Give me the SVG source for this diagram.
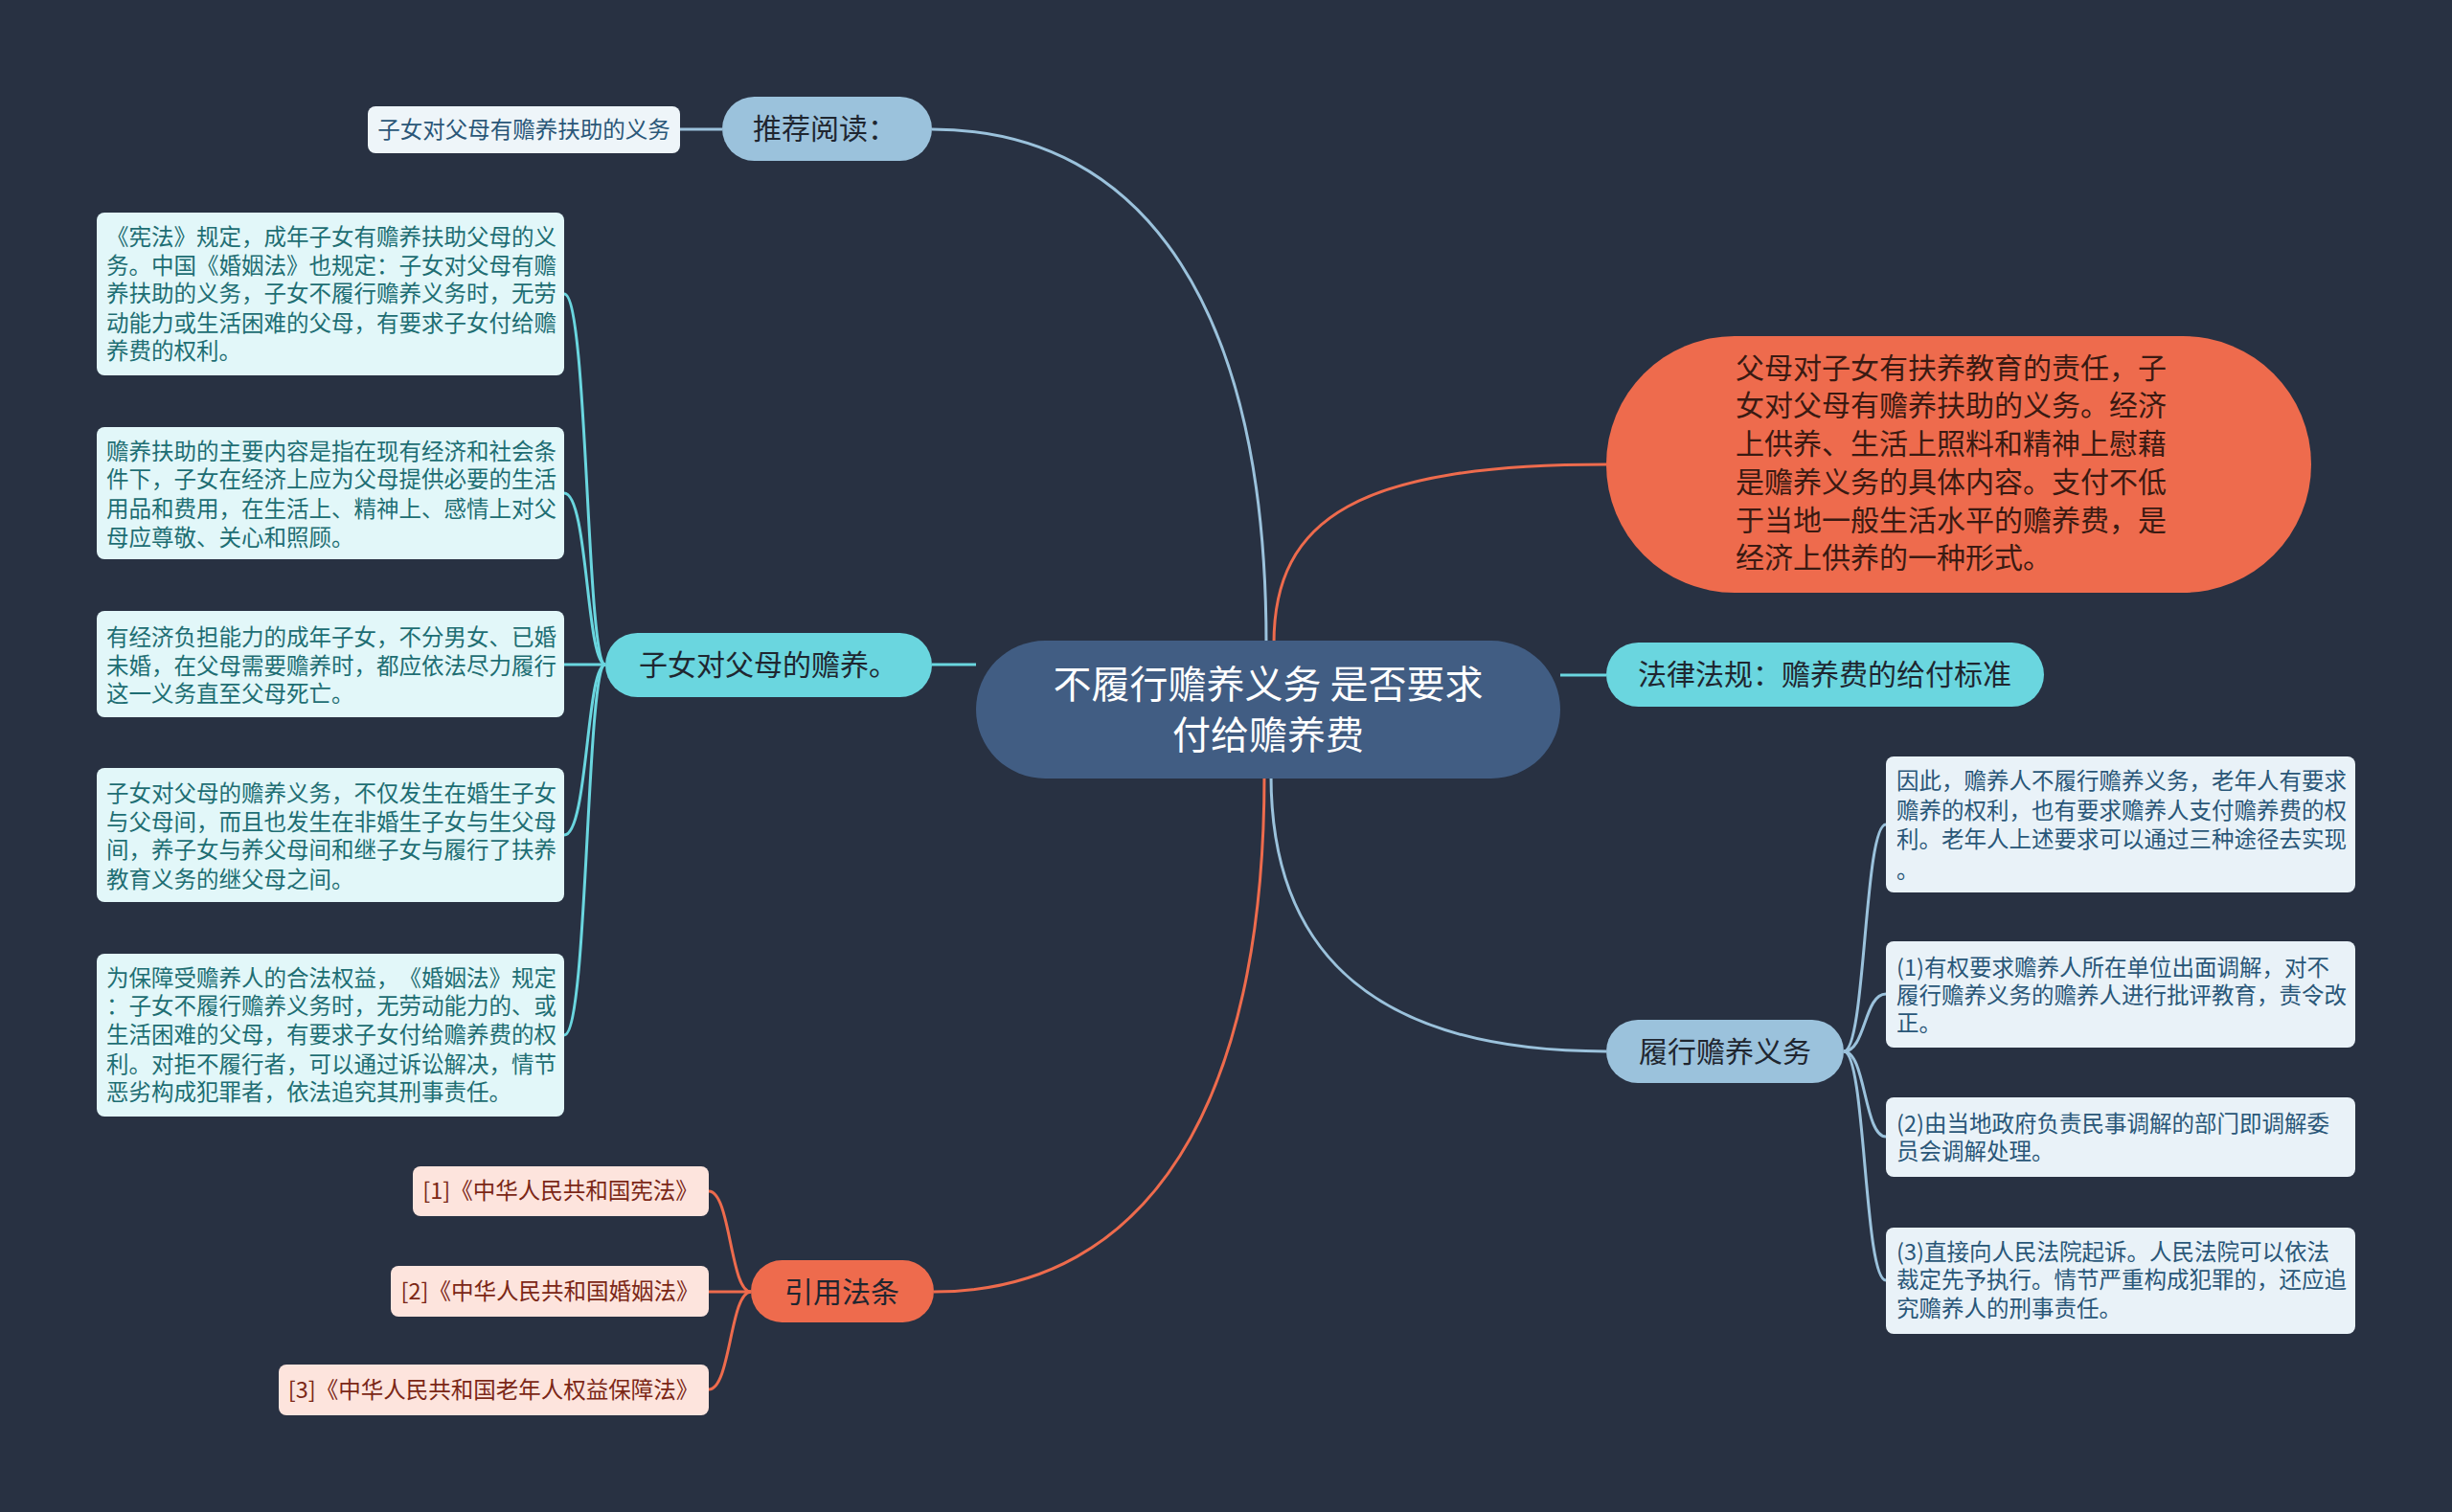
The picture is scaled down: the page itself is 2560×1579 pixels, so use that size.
<svg xmlns="http://www.w3.org/2000/svg" width="2560" height="1579" viewBox="0 0 2560 1579">
<style>
text{font-family:"Noto Sans CJK SC","Noto Sans",sans-serif;font-kerning:none;text-spacing-trim:space-all;}
.c{fill:none;stroke-width:3;}
.cb{stroke:#9bc2dc;}
.cc{stroke:#6ad6df;}
.co{stroke:#ee6b4d;}
.lf{fill:#e2f7f9;}
.lt{fill:#1e6e73;font-size:23.5px;}
.rf{fill:#e9f2f8;}
.rt{fill:#2a5778;font-size:23.5px;}
.pf{fill:#fde4dd;}
.pt{fill:#7b2716;font-size:23.5px;text-anchor:middle;}
.mt{fill:#1f2630;font-size:30px;text-anchor:middle;}
</style>
<rect width="2560" height="1579" fill="#283142"/>
<g id="connectors">
<path class="c cb" d="M973,135 C1200,135 1322,330 1322,672"/>
<path class="c co" d="M1330,672 C1330,540 1420,485 1677,485"/>
<path class="c cc" d="M1629,705 L1677,705"/>
<path class="c cb" d="M1327,810 C1327,1000 1440,1098 1677,1098"/>
<path class="c co" d="M1320,810 C1320,1150 1200,1349 975,1349"/>
<path class="c cc" d="M1019,694 L973,694"/>
<path class="c cb" d="M754,135 L710,135"/>
<path class="c cc" d="M632,694 C612,694 614,307 589,307"/>
<path class="c cc" d="M632,694 C612,694 614,515 589,515"/>
<path class="c cc" d="M632,694 L589,694"/>
<path class="c cc" d="M632,694 C612,694 614,872 589,872"/>
<path class="c cc" d="M632,694 C612,694 614,1081 589,1081"/>
<path class="c cb" d="M1925,1098 C1948,1098 1946,861 1969,861"/>
<path class="c cb" d="M1925,1098 C1948,1098 1946,1038 1969,1038"/>
<path class="c cb" d="M1925,1098 C1948,1098 1946,1187 1969,1187"/>
<path class="c cb" d="M1925,1098 C1948,1098 1946,1337 1969,1337"/>
<path class="c co" d="M784,1349 C762,1349 763,1244 740,1244"/>
<path class="c co" d="M784,1349 L740,1349"/>
<path class="c co" d="M784,1349 C762,1349 763,1451 740,1451"/>
</g>
<g id="center">
<rect x="1019" y="669" width="610" height="144" rx="72" fill="#415d83"/>
<text x="1324" y="729" fill="#ffffff" font-size="40" text-anchor="middle">不履行赡养义务 是否要求</text>
<text x="1324" y="782" fill="#ffffff" font-size="40" text-anchor="middle">付给赡养费</text>
</g>
<g id="n-tuijian">
<rect x="754" y="101" width="219" height="67" rx="33.5" fill="#9bc2dc"/>
<text class="mt" x="861" y="145">推荐阅读：</text>
</g>
<g id="n-tuijian-leaf">
<rect x="384" y="111" width="326" height="49" rx="8" fill="#eef5f9"/>
<text x="547" y="144" fill="#2a5778" font-size="23.5" text-anchor="middle">子女对父母有赡养扶助的义务</text>
</g>
<g id="n-zinv">
<rect x="632" y="661" width="341" height="67" rx="33.5" fill="#6ad6df"/>
<text class="mt" x="802" y="705">子女对父母的赡养。</text>
</g>
<g id="l1">
<rect class="lf" x="101" y="222" width="488" height="170" rx="8"/>
<text class="lt"><tspan x="111" y="256">《宪法》规定，成年子女有赡养扶助父母的义</tspan><tspan x="111" y="286">务。中国《婚姻法》也规定：子女对父母有赡</tspan><tspan x="111" y="315">养扶助的义务，子女不履行赡养义务时，无劳</tspan><tspan x="111" y="346">动能力或生活困难的父母，有要求子女付给赡</tspan><tspan x="111" y="375">养费的权利。</tspan></text>
</g>
<g id="l2">
<rect class="lf" x="101" y="446" width="488" height="138" rx="8"/>
<text class="lt"><tspan x="111" y="480">赡养扶助的主要内容是指在现有经济和社会条</tspan><tspan x="111" y="509">件下，子女在经济上应为父母提供必要的生活</tspan><tspan x="111" y="540">用品和费用，在生活上、精神上、感情上对父</tspan><tspan x="111" y="570">母应尊敬、关心和照顾。</tspan></text>
</g>
<g id="l3">
<rect class="lf" x="101" y="638" width="488" height="111" rx="8"/>
<text class="lt"><tspan x="111" y="674">有经济负担能力的成年子女，不分男女、已婚</tspan><tspan x="111" y="704">未婚，在父母需要赡养时，都应依法尽力履行</tspan><tspan x="111" y="733">这一义务直至父母死亡。</tspan></text>
</g>
<g id="l4">
<rect class="lf" x="101" y="802" width="488" height="140" rx="8"/>
<text class="lt"><tspan x="111" y="837">子女对父母的赡养义务，不仅发生在婚生子女</tspan><tspan x="111" y="867">与父母间，而且也发生在非婚生子女与生父母</tspan><tspan x="111" y="896">间，养子女与养父母间和继子女与履行了扶养</tspan><tspan x="111" y="927">教育义务的继父母之间。</tspan></text>
</g>
<g id="l5">
<rect class="lf" x="101" y="996" width="488" height="170" rx="8"/>
<text class="lt"><tspan x="111" y="1030">为保障受赡养人的合法权益，《婚姻法》规定</tspan><tspan x="111" y="1059">：子女不履行赡养义务时，无劳动能力的、或</tspan><tspan x="111" y="1089">生活困难的父母，有要求子女付给赡养费的权</tspan><tspan x="111" y="1120">利。对拒不履行者，可以通过诉讼解决，情节</tspan><tspan x="111" y="1149">恶劣构成犯罪者，依法追究其刑事责任。</tspan></text>
</g>
<g id="n-orange">
<rect x="1677" y="351" width="736" height="268" rx="134" fill="#ee6b4d"/>
<text fill="#3a1a12" font-size="30"><tspan x="1812" y="395">父母对子女有扶养教育的责任，子</tspan><tspan x="1812" y="434">女对父母有赡养扶助的义务。经济</tspan><tspan x="1812" y="474">上供养、生活上照料和精神上慰藉</tspan><tspan x="1812" y="514">是赡养义务的具体内容。支付不低</tspan><tspan x="1812" y="554">于当地一般生活水平的赡养费，是</tspan><tspan x="1812" y="593">经济上供养的一种形式。</tspan></text>
</g>
<g id="n-falv">
<rect x="1677" y="671" width="457" height="67" rx="33.5" fill="#6ad6df"/>
<text class="mt" x="1905" y="715">法律法规：赡养费的给付标准</text>
</g>
<g id="n-lvxing">
<rect x="1677" y="1065" width="248" height="66" rx="33" fill="#9bc2dc"/>
<text class="mt" x="1801" y="1109">履行赡养义务</text>
</g>
<g id="r1">
<rect class="rf" x="1969" y="790" width="490" height="142" rx="8"/>
<text class="rt"><tspan x="1980" y="824">因此，赡养人不履行赡养义务，老年人有要求</tspan><tspan x="1980" y="855">赡养的权利，也有要求赡养人支付赡养费的权</tspan><tspan x="1980" y="885">利。老年人上述要求可以通过三种途径去实现</tspan><tspan x="1980" y="917">。</tspan></text>
</g>
<g id="r2">
<rect class="rf" x="1969" y="983" width="490" height="111" rx="8"/>
<text class="rt"><tspan x="1980" y="1019">(1)有权要求赡养人所在单位出面调解，对不</tspan><tspan x="1980" y="1048">履行赡养义务的赡养人进行批评教育，责令改</tspan><tspan x="1980" y="1077">正。</tspan></text>
</g>
<g id="r3">
<rect class="rf" x="1969" y="1146" width="490" height="83" rx="8"/>
<text class="rt"><tspan x="1980" y="1182">(2)由当地政府负责民事调解的部门即调解委</tspan><tspan x="1980" y="1211">员会调解处理。</tspan></text>
</g>
<g id="r4">
<rect class="rf" x="1969" y="1282" width="490" height="111" rx="8"/>
<text class="rt"><tspan x="1980" y="1316">(3)直接向人民法院起诉。人民法院可以依法</tspan><tspan x="1980" y="1345">裁定先予执行。情节严重构成犯罪的，还应追</tspan><tspan x="1980" y="1375">究赡养人的刑事责任。</tspan></text>
</g>
<g id="n-yinyong">
<rect x="784" y="1316" width="191" height="65" rx="32.5" fill="#ee6b4d"/>
<text class="mt" x="879" y="1360">引用法条</text>
</g>
<g id="p1">
<rect class="pf" x="431" y="1218" width="309" height="52" rx="8"/>
<text class="pt" x="585" y="1252">[1]《中华人民共和国宪法》</text>
</g>
<g id="p2">
<rect class="pf" x="408" y="1322" width="332" height="53" rx="8"/>
<text class="pt" x="574" y="1357">[2]《中华人民共和国婚姻法》</text>
</g>
<g id="p3">
<rect class="pf" x="291" y="1425" width="449" height="53" rx="8"/>
<text class="pt" x="515" y="1460">[3]《中华人民共和国老年人权益保障法》</text>
</g>
</svg>
